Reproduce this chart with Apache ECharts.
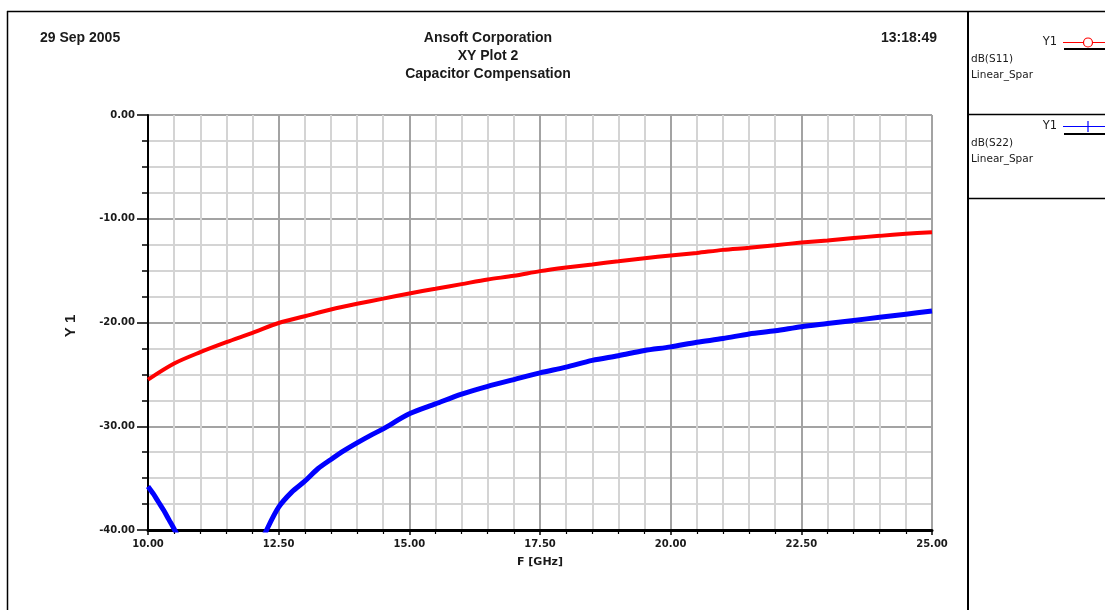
<!DOCTYPE html>
<html>
<head>
<meta charset="utf-8">
<script src="https://cdn.jsdelivr.net/npm/echarts@6/dist/echarts.min.js"></script>
<style>
html,body{margin:0;padding:0;background:#fff;}
#chart{width:1105px;height:610px;}
</style>
</head>
<body>
<div id="chart"></div>
<script>
// ---- Data ----
const s11Freq = [10,10.5,11,11.5,12,12.5,13,13.5,14,14.5,15,15.5,16,16.5,17,17.5,18,18.5,19,19.5,20,20.5,21,21.5,22,22.5,23,23.5,24,24.5,25];
const s11dB   = [-25.5,-23.95,-22.86,-21.9,-21.0,-20.05,-19.4,-18.75,-18.2,-17.7,-17.2,-16.75,-16.3,-15.85,-15.5,-15.05,-14.7,-14.4,-14.1,-13.8,-13.55,-13.3,-13.0,-12.8,-12.55,-12.3,-12.1,-11.85,-11.65,-11.45,-11.3];

const s22Freq = [10,10.1,10.2,10.3,10.4,10.5,10.6,11,11.5,12,12.27,12.5,12.75,13,13.25,13.5,13.75,14,14.25,14.5,15,15.5,16,16.5,17,17.5,18,18.5,19,19.5,20,20.5,21,21.5,22,22.5,23,23.5,24,24.5,25];
const s22dB   = [-35.8,-36.5,-37.3,-38.1,-39.0,-39.9,-40.9,-46,-55,-43,-40.0,-37.8,-36.35,-35.3,-34.1,-33.2,-32.35,-31.6,-30.9,-30.25,-28.8,-27.85,-26.9,-26.15,-25.5,-24.85,-24.3,-23.65,-23.2,-22.7,-22.35,-21.9,-21.55,-21.1,-20.8,-20.4,-20.1,-19.8,-19.5,-19.2,-18.9];

const xTickLabels = ['10.00','12.50','15.00','17.50','20.00','22.50','25.00'];
const yTickLabels = ['-40.00','-30.00','-20.00','-10.00','0.00'];

const seriesNames = ['dB(S11)','dB(S22)'];
const titleLines = ['Ansoft Corporation','XY Plot 2','Capacitor Compensation'];
const dateText = '29 Sep 2005';
const timeText = '13:18:49';
const xName = 'F [GHz]';
const yName = 'Y 1';

// ---- Chart ----
const chart = echarts.init(document.getElementById('chart'), null, {renderer:'canvas'});
const tickFont = {fontFamily:'DejaVu Sans', fontWeight:'bold', fontSize:10, color:'#1a1a1a'};
const titleFont = {fontFamily:'Liberation Sans, Arial, sans-serif', fontWeight:'bold', fontSize:14, fill:'#1a1a1a'};
const legFont = {fontFamily:'DejaVu Sans', fontSize:10.5, fill:'#1a1a1a'};

const graphic = [
  // frame
  {type:'line', shape:{x1:7, y1:11.5, x2:1105, y2:11.5}, style:{stroke:'#000', lineWidth:1.5}, silent:true},
  {type:'line', shape:{x1:7.5, y1:11, x2:7.5, y2:610}, style:{stroke:'#000', lineWidth:1.5}, silent:true},
  {type:'line', shape:{x1:968, y1:11, x2:968, y2:610}, style:{stroke:'#000', lineWidth:2}, silent:true},
  {type:'line', shape:{x1:968, y1:114.5, x2:1105, y2:114.5}, style:{stroke:'#000', lineWidth:1.5}, silent:true},
  {type:'line', shape:{x1:968, y1:198.5, x2:1105, y2:198.5}, style:{stroke:'#000', lineWidth:1.5}, silent:true},
  // header texts
  {type:'text', style:Object.assign({text:dateText, x:40, y:38.5, verticalAlign:'middle'}, titleFont)},
  {type:'text', style:Object.assign({text:timeText, x:937, y:38.5, align:'right', verticalAlign:'middle'}, titleFont)},
  {type:'text', style:Object.assign({text:titleLines[0], x:488, y:38.5, align:'center', verticalAlign:'middle'}, titleFont)},
  {type:'text', style:Object.assign({text:titleLines[1], x:488, y:56.5, align:'center', verticalAlign:'middle'}, titleFont)},
  {type:'text', style:Object.assign({text:titleLines[2], x:488, y:74.5, align:'center', verticalAlign:'middle'}, titleFont)},
  // axis names
  {type:'text', x:540, y:562, style:{text:xName, align:'center', verticalAlign:'middle', fontFamily:'DejaVu Sans', fontWeight:'bold', fontSize:11, fill:'#1a1a1a'}},
  {type:'text', x:71, y:326, rotation:Math.PI/2, style:{text:yName, align:'center', verticalAlign:'middle', fontFamily:'Liberation Sans, Arial, sans-serif', fontWeight:'bold', fontSize:15, fill:'#1a1a1a'}},
  // legend entry 1
  {type:'text', style:Object.assign({text:'Y1', x:1057, y:42.5, align:'right', verticalAlign:'middle'}, legFont, {fontSize:11.5})},
  {type:'line', shape:{x1:1063, y1:42.5, x2:1105, y2:42.5}, style:{stroke:'#ff0000', lineWidth:1.2}},
  {type:'circle', shape:{cx:1088, cy:42.5, r:4.5}, style:{fill:'#fff', stroke:'#ff0000', lineWidth:1.2}},
  {type:'line', shape:{x1:1064, y1:49, x2:1105, y2:49}, style:{stroke:'#000', lineWidth:2}},
  {type:'text', style:Object.assign({text:seriesNames[0], x:971, y:59, verticalAlign:'middle'}, legFont)},
  {type:'text', style:Object.assign({text:'Linear_Spar', x:971, y:75, verticalAlign:'middle'}, legFont)},
  // legend entry 2
  {type:'text', style:Object.assign({text:'Y1', x:1057, y:126.5, align:'right', verticalAlign:'middle'}, legFont, {fontSize:11.5})},
  {type:'line', shape:{x1:1063, y1:126.5, x2:1105, y2:126.5}, style:{stroke:'#0000ff', lineWidth:1.2}},
  {type:'line', shape:{x1:1088, y1:121, x2:1088, y2:132}, style:{stroke:'#0000ff', lineWidth:1.2}},
  {type:'line', shape:{x1:1064, y1:134, x2:1105, y2:134}, style:{stroke:'#000', lineWidth:2}},
  {type:'text', style:Object.assign({text:seriesNames[1], x:971, y:143, verticalAlign:'middle'}, legFont)},
  {type:'text', style:Object.assign({text:'Linear_Spar', x:971, y:159, verticalAlign:'middle'}, legFont)}
];

const option = {
  animation:false,
  backgroundColor:'#fff',
  grid:{left:148, top:115, width:784, height:415, containLabel:false},
  xAxis:{
    type:'value', min:10, max:25, interval:2.5,
    axisLine:{show:true, onZero:false, lineStyle:{color:'#000', width:3}},
    axisTick:{show:true, length:5, lineStyle:{color:'#000', width:1.5}},
    minorTick:{show:true, splitNumber:5, length:4, lineStyle:{color:'#000', width:1.2}},
    splitLine:{show:true, showMinLine:true, showMaxLine:true, lineStyle:{color:'#a3a3a3', width:2}},
    minorSplitLine:{show:true, lineStyle:{color:'#d4d4d4', width:2}},
    axisLabel:Object.assign({margin:9, showMinLabel:true, showMaxLabel:true,
      formatter:(v)=>xTickLabels[Math.round((v-10)/2.5)]}, tickFont)
  },
  yAxis:{
    type:'value', min:-40, max:0, interval:10,
    axisLine:{show:true, onZero:false, lineStyle:{color:'#000', width:2}},
    axisTick:{show:true, length:11, lineStyle:{color:'#000', width:1.5}},
    minorTick:{show:true, splitNumber:4, length:6, lineStyle:{color:'#000', width:1.5}},
    splitLine:{show:true, showMinLine:true, showMaxLine:true, lineStyle:{color:'#a3a3a3', width:2}},
    minorSplitLine:{show:true, lineStyle:{color:'#d4d4d4', width:2}},
    axisLabel:Object.assign({margin:13, showMinLabel:true, showMaxLabel:true,
      formatter:(v)=>yTickLabels[Math.round((v+40)/10)]}, tickFont)
  },
  series:[
    {name:seriesNames[0], type:'line', data:s11Freq.map((f,i)=>[f,s11dB[i]]), showSymbol:false, symbol:'none',
     smooth:0.3, clip:true, lineStyle:{color:'#ff0000', width:4}, z:3},
    {name:seriesNames[1], type:'line', data:s22Freq.map((f,i)=>[f,s22dB[i]]), showSymbol:false, symbol:'none',
     smooth:0.3, clip:true, lineStyle:{color:'#0000ff', width:5}, z:3}
  ],
  graphic:graphic
};
chart.setOption(option);
</script>
</body>
</html>
